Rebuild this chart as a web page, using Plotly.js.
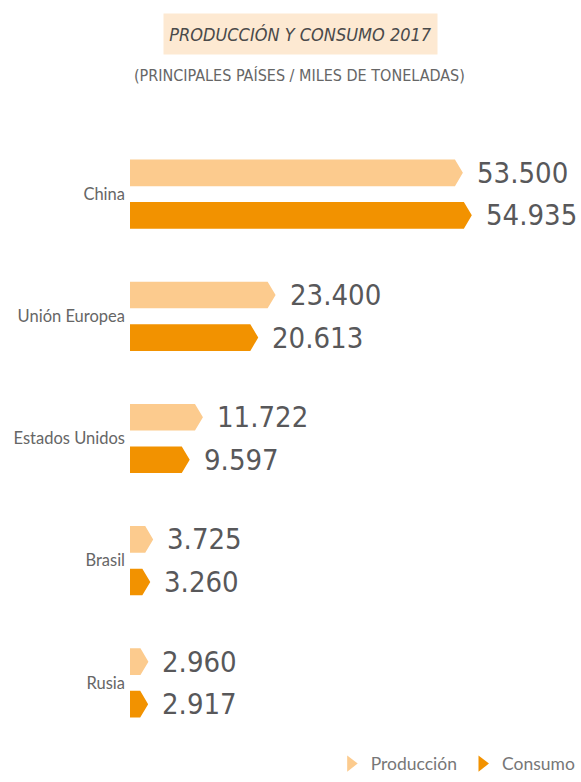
<!DOCTYPE html>
<html>
<head>
<meta charset="utf-8">
<script src="https://cdn.plot.ly/plotly-3.0.1.min.js"></script>
<style>html,body{margin:0;padding:0;background:#fff;}#chart{width:581px;height:782px;}</style>
</head>
<body>
<div id="chart"></div>
<script>
// ---- data ----
const categories = ['China', 'Unión Europea', 'Estados Unidos', 'Brasil', 'Rusia'];
const produccion = [53500, 23400, 11722, 3725, 2960];
const consumo = [54935, 20613, 9597, 3260, 2917];
const seriesNames = ['Producción', 'Consumo'];
const titleText = 'PRODUCCIÓN Y CONSUMO 2017';
const subtitleText = '(PRINCIPALES PAÍSES / MILES DE TONELADAS)';

// ---- style ----
const colors = ['#FCCB8E', '#F29200'];
const W = 581, H = 782;
const margin = {l: 130, r: 0, t: 133, b: 30};
const xMax = 72000;
const plotW = W - margin.l - margin.r;
const tipPx = 8;
const tip = tipPx * xMax / plotW;
const off = 0.174, hh = 0.109;
const condensed = 'DejaVu Sans Condensed, Liberation Sans Narrow, sans-serif';
const valueFont = {family: condensed, size: 29, color: '#58585A'};

function fmt(v) { return String(v).replace(/\B(?=(\d{3})+(?!\d))/g, '.'); }

function arrowTrace(values, sign, color, name) {
  const xs = [], ys = [];
  values.forEach((v, i) => {
    const yc = i + sign * off;
    const t = Math.min(tip, v);
    xs.push(0, v - t, v, v - t, 0, 0, null);
    ys.push(yc - hh, yc - hh, yc, yc + hh, yc + hh, yc - hh, null);
  });
  return {
    type: 'scatter', mode: 'lines', x: xs, y: ys, fill: 'toself',
    fillcolor: color, line: {width: 0, color: color}, name: name,
    legendgroup: name, showlegend: false, hoveron: 'fills', hoverinfo: 'name'
  };
}

const series = [produccion, consumo];
const traces = [];
series.forEach((vals, s) => traces.push(arrowTrace(vals, s === 0 ? -1 : 1, colors[s], seriesNames[s])));
series.forEach((vals, s) => traces.push({
  type: 'scatter', mode: 'markers', x: [null], y: [null], name: seriesNames[s],
  legendgroup: seriesNames[s], showlegend: true,
  marker: {symbol: 'triangle-right', size: 14, color: colors[s]}
}));

const annotations = [];
series.forEach((vals, s) => vals.forEach((v, i) => {
  annotations.push({
    x: v, y: i + (s === 0 ? -off : off), xref: 'x', yref: 'y',
    text: fmt(v), showarrow: false, xanchor: 'left', yanchor: 'middle',
    xshift: 12, font: valueFont
  });
}));
const plotH = H - margin.t - margin.b;
annotations.push({
  xref: 'paper', yref: 'paper', x: (301.5 - margin.l) / plotW, y: 1 + (margin.t - 33) / plotH,
  text: '<i>' + titleText + '</i>', showarrow: false, xanchor: 'center', yanchor: 'middle',
  width: 271, height: 38, bgcolor: '#FDE9D2',
  font: {family: condensed, size: 18, color: '#4a4a4a'}
});
annotations.push({
  xref: 'paper', yref: 'paper', x: (300.5 - margin.l) / plotW, y: 1 + (margin.t - 75) / plotH,
  text: subtitleText, showarrow: false, xanchor: 'center', yanchor: 'middle',
  font: {family: condensed, size: 16, color: '#666'}
});

const layout = {
  width: W, height: H, margin: margin,
  paper_bgcolor: '#fff', plot_bgcolor: '#fff',
  xaxis: {range: [0, xMax], visible: false, fixedrange: true},
  yaxis: {
    range: [categories.length - 0.5, -0.5], tickvals: categories.map((c, i) => i), ticktext: categories,
    showgrid: false, zeroline: false, showline: false, ticks: '', ticklabelstandoff: 4,
    tickfont: {family: 'Lato, sans-serif', size: 16.5, color: '#666'}, fixedrange: true
  },
  showlegend: true,
  legend: {
    orientation: 'h', x: 1.006, xanchor: 'right', y: -20 / plotH, yanchor: 'middle',
    font: {family: 'Lato, sans-serif', size: 17.5, color: '#777'}, itemwidth: 30,
    bgcolor: 'rgba(0,0,0,0)'
  },
  annotations: annotations
};

Plotly.newPlot('chart', traces, layout, {displayModeBar: false});
</script>
</body>
</html>
